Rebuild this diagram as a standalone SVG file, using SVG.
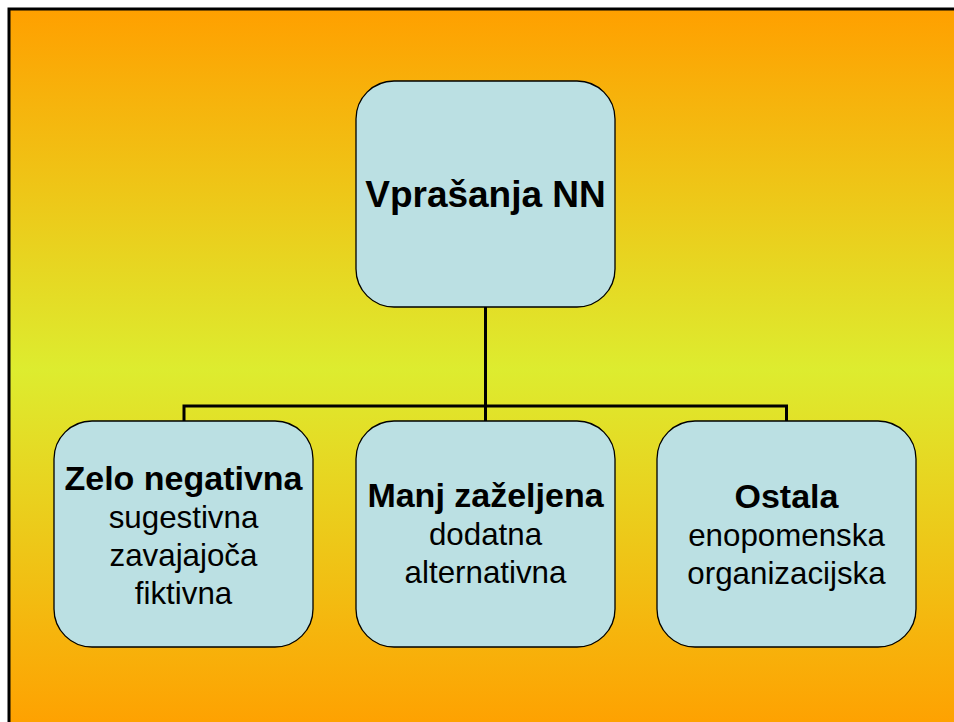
<svg xmlns="http://www.w3.org/2000/svg" width="954" height="722" viewBox="0 0 954 722">
  <defs>
    <linearGradient id="bg" gradientUnits="userSpaceOnUse" x1="0" y1="10" x2="0" y2="730">
      <stop offset="0" stop-color="#FFA000"/>
      <stop offset="0.5" stop-color="#DDEC2F"/>
      <stop offset="1" stop-color="#FFA000"/>
    </linearGradient>
  </defs>
  <style>
    .node { fill: #BBE0E3; stroke: #000000; stroke-width: 1.3; }
    .conn { fill: none; stroke: #000000; stroke-width: 3; }
    .b { font-family: "Liberation Sans", Arial, sans-serif; font-weight: bold; font-size: 34px; fill: #000000; text-anchor: middle; }
    .r { font-family: "Liberation Sans", Arial, sans-serif; font-size: 31.3px; fill: #000000; text-anchor: middle; }
    .t { font-family: "Liberation Sans", Arial, sans-serif; font-weight: bold; font-size: 37px; fill: #000000; text-anchor: middle; }
  </style>
  <rect x="0" y="0" width="954" height="722" fill="#FFFFFF"/>
  <rect x="9" y="9" width="960" height="730" fill="url(#bg)" stroke="#000000" stroke-width="3"/>
  <g id="connectors">
    <path class="conn" d="M485.5 307 V406 M184 421 V406 H786.5 V421 M485.5 406 V421"/>
  </g>
  <g id="node-root">
    <rect class="node" x="356" y="81" width="259" height="226" rx="38" ry="38"/>
    <text class="t" x="485.5" y="207">Vprašanja NN</text>
  </g>
  <g id="node-left">
    <rect class="node" x="54" y="421" width="259" height="226" rx="38" ry="38"/>
    <text class="b" x="183.5" y="490">Zelo negativna</text>
    <text class="r" x="183.5" y="528">sugestivna</text>
    <text class="r" x="183.5" y="566">zavajajoča</text>
    <text class="r" x="183.5" y="604">fiktivna</text>
  </g>
  <g id="node-middle">
    <rect class="node" x="356" y="421" width="259" height="226" rx="38" ry="38"/>
    <text class="b" x="485.5" y="507">Manj zaželjena</text>
    <text class="r" x="485.5" y="545">dodatna</text>
    <text class="r" x="485.5" y="583">alternativna</text>
  </g>
  <g id="node-right">
    <rect class="node" x="657" y="421" width="259" height="226" rx="38" ry="38"/>
    <text class="b" x="786.5" y="508">Ostala</text>
    <text class="r" x="786.5" y="546">enopomenska</text>
    <text class="r" x="786.5" y="584">organizacijska</text>
  </g>
</svg>
